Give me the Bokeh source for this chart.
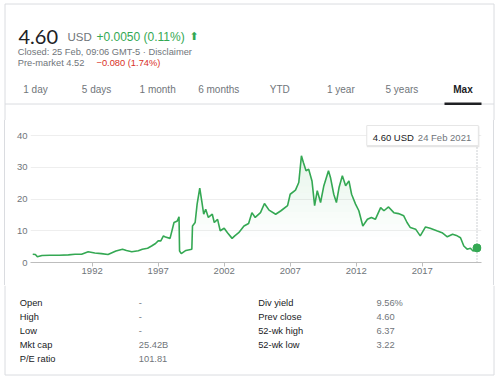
import numpy as np
from bokeh.plotting import figure
from bokeh.layouts import column
from bokeh.models import Range1d, FixedTicker
from bokeh.core.properties import value
from bokeh.embed import file_html
from bokeh.resources import INLINE

# ---------------- data ----------------
years = [1987.5, 1987.7, 1987.85, 1988.2, 1988.8, 1989.5, 1990.2, 1990.7, 1991.2, 1991.7,
         1992.2, 1992.7, 1993.2, 1993.8, 1994.3, 1994.6, 1995.0, 1995.5, 1995.8, 1996.2,
         1996.5, 1996.8, 1997.0, 1997.2, 1997.4, 1997.55, 1997.9, 1998.2, 1998.45, 1998.58,
         1998.62, 1998.75, 1999.1, 1999.55, 1999.6, 1999.8, 1999.95, 2000.15, 2000.3, 2000.45,
         2000.6, 2000.8, 2001.1, 2001.25, 2001.5, 2001.7, 2002.0, 2002.25, 2002.6, 2002.8,
         2003.1, 2003.5, 2003.85, 2004.1, 2004.35, 2004.75, 2005.05, 2005.4, 2005.9, 2006.3,
         2006.8, 2007.0, 2007.4, 2007.65, 2007.85, 2008.0, 2008.2, 2008.4, 2008.65, 2008.85,
         2009.05, 2009.3, 2009.55, 2009.9, 2010.05, 2010.3, 2010.5, 2010.7, 2010.95, 2011.2,
         2011.45, 2011.65, 2011.95, 2012.2, 2012.5, 2012.85, 2013.15, 2013.45, 2013.85, 2014.1,
         2014.45, 2014.85, 2015.2, 2015.6, 2015.85, 2016.1, 2016.5, 2016.85, 2017.25, 2017.6,
         2018.1, 2018.5, 2018.9, 2019.3, 2019.65, 2019.9, 2020.15, 2020.4, 2020.65, 2020.85,
         2021.0, 2021.15]
prices = [2.6, 2.5, 1.8, 2.2, 2.3, 2.3, 2.4, 2.6, 2.6, 3.4,
          3.0, 2.8, 2.5, 3.6, 4.2, 3.8, 3.4, 3.7, 4.2, 4.5,
          5.2, 6.0, 6.8, 6.8, 8.4, 8.0, 7.6, 12.6, 13.1, 14.4,
          3.6, 2.8, 3.8, 4.2, 11.5, 12.6, 18.4, 23.4, 19.4, 15.2,
          16.8, 14.2, 15.2, 12.6, 13.6, 10.0, 10.8, 9.4, 7.6, 8.4,
          9.4, 11.5, 12.3, 15.7, 14.2, 15.7, 18.6, 16.5, 15.2, 16.3,
          17.9, 21.5, 22.8, 25.2, 33.6, 31.5, 28.9, 29.4, 25.7, 17.9,
          22.6, 18.9, 24.2, 28.9, 26.8, 21.5, 18.9, 23.6, 27.3, 24.2,
          25.7, 21.5, 18.4, 16.3, 11.5, 13.6, 14.2, 13.6, 17.3, 16.3,
          17.5, 15.7, 15.4, 14.7, 12.6, 11.0, 10.5, 8.4, 11.2, 10.8,
          10.0, 9.4, 8.1, 8.9, 8.4, 7.8, 5.2, 4.2, 4.5, 3.6,
          3.9, 4.6]

x_ticks = [1992, 1997, 2002, 2007, 2012, 2017]
y_ticks = [0, 10, 20, 30, 40]

currency = "USD"
change_text = "+0.0050 (0.11%)"
closed_text = "Closed: 25 Feb, 09:06 GMT-5 · Disclaimer"
premarket_text = "Pre-market 4.52"
premarket_change = "\u22120.080 (1.74%)"
last_date_label = "24 Feb 2021"
tabs = ["1 day", "5 days", "1 month", "6 months", "YTD", "1 year", "5 years", "Max"]

left_labels = ["Open", "High", "Low", "Mkt cap", "P/E ratio"]
left_values = ["-", "-", "-", "25.42B", "101.81"]
right_labels = ["Div yield", "Prev close", "52-wk high", "52-wk low"]
right_values = ["9.56%", "4.60", "6.37", "3.22"]

# ---------------- styles ----------------
W = 498
GREEN = "#34a853"
RED = "#d93025"
GRAY = "#70757a"
DARK = "#202124"
LINE = "#dadce0"
FONT = value("Liberation Sans")
CARD_L, CARD_R = 4.5, 493.5


def blank(h):
    f = figure(width=W, height=h, x_range=Range1d(0, W), y_range=Range1d(h, 0),
               x_axis_type=None, y_axis_type=None, output_backend="svg",
               toolbar_location=None, min_border=0)
    f.grid.visible = False
    f.outline_line_color = None
    f.frame_align = False
    return f


# ---------------- header ----------------
H1 = 120
hd = blank(H1)
hd.segment(x0=[CARD_L, CARD_R, CARD_L], y0=[3.5, 3.5, 3.5], x1=[CARD_L, CARD_R, CARD_R],
           y1=[H1, H1, 3.5], line_color=LINE, line_width=1)
hd.text(x=[18], y=[36], text=[f"{prices[-1]:.2f}"], text_font=value("Lato"),
        text_font_size="20px", text_color=DARK, text_baseline="alphabetic")
hd.text(x=[67], y=[36], text=[currency], text_font=FONT, text_font_size="11.5px",
        text_color=GRAY, text_baseline="alphabetic")
hd.text(x=[96], y=[36], text=[change_text], text_font=FONT, text_font_size="12px",
        text_color=GREEN, text_baseline="alphabetic")
hd.text(x=[189], y=[36], text=["\u2b06"], text_font=value("DejaVu Sans"), text_font_size="11px",
        text_color=GREEN, text_baseline="alphabetic")
hd.text(x=[17.3], y=[51.3], text=[closed_text], text_font=FONT, text_font_size="9.3px",
        text_color=GRAY, text_baseline="alphabetic")
hd.text(x=[17.3], y=[62.3], text=[premarket_text], text_font=FONT, text_font_size="9.3px",
        text_color=GRAY, text_baseline="alphabetic")
hd.text(x=[96], y=[62.3], text=[premarket_change], text_font=FONT, text_font_size="9.3px",
        text_color=RED, text_baseline="alphabetic")

tab_x = [35 + 61.07 * i for i in range(len(tabs))]
hd.text(x=tab_x[:-1], y=[89] * (len(tabs) - 1), text=tabs[:-1], text_font=FONT,
        text_font_size="10px", text_color=GRAY, text_align="center", text_baseline="alphabetic")
hd.text(x=[tab_x[-1]], y=[89], text=[tabs[-1]], text_font=FONT, text_font_size="10px",
        text_font_style="bold", text_color=DARK, text_align="center", text_baseline="alphabetic")
hd.segment(x0=[CARD_L], y0=[103.5], x1=[CARD_R], y1=[103.5], line_color=LINE, line_width=1)
hd.segment(x0=[tab_x[-1] - 18.5], y0=[103.2], x1=[tab_x[-1] + 18.5], y1=[103.2],
           line_color=DARK, line_width=2.5)

# ---------------- chart ----------------
H2 = 165
ch = figure(width=W, height=H2, x_range=Range1d(1987.33, 2021.49), y_range=Range1d(0, 44.1),
            output_backend="svg", toolbar_location=None,
            min_border_left=30, min_border_right=17, min_border_top=2, min_border_bottom=23)
ch.frame_align = False
ch.outline_line_color = None
ch.border_fill_color = None
ch.background_fill_color = None
ch.styles = {"background": "linear-gradient(#dadce0, #dadce0) 4px 0 / 1px 100% no-repeat, "
                           "linear-gradient(#dadce0, #dadce0) 493px 0 / 1px 100% no-repeat, white"}
ch.xgrid.visible = False
ch.ygrid.ticker = FixedTicker(ticks=y_ticks[1:])
ch.ygrid.grid_line_color = "#eeeeee"

ch.xaxis.ticker = FixedTicker(ticks=x_ticks)
ch.xaxis.major_label_overrides = {t: str(t) for t in x_ticks}
ch.xaxis.axis_line_color = "#bdbdbd"
ch.xaxis.major_tick_line_color = "#bdbdbd"
ch.xaxis.major_tick_out = 4
ch.xaxis.major_tick_in = 0
ch.xaxis.minor_tick_line_color = None
ch.xaxis.major_label_standoff = 1
ch.xaxis.major_label_text_font = "Liberation Sans"
ch.xaxis.major_label_text_font_size = "9.5px"
ch.xaxis.major_label_text_color = GRAY

ch.yaxis.ticker = FixedTicker(ticks=y_ticks)
ch.yaxis.axis_line_color = None
ch.yaxis.major_tick_line_color = None
ch.yaxis.major_tick_out = 0
ch.yaxis.major_tick_in = 0
ch.yaxis.minor_tick_line_color = None
ch.yaxis.major_label_standoff = 3
ch.yaxis.major_label_text_font = "Liberation Sans"
ch.yaxis.major_label_text_font_size = "9.5px"
ch.yaxis.major_label_text_color = GRAY

px = np.array(prices)
for lo in range(0, 40, 2):
    a = 0.13 * (lo - 6) / 28.0
    if a <= 0:
        continue
    ch.varea(x=years, y1=np.minimum(px, lo), y2=np.minimum(px, lo + 2),
             fill_color=GREEN, fill_alpha=min(a, 0.13))

ch.line(x=years, y=prices, line_color=GREEN, line_width=1.6)

last = years[-1]
box_l, box_r, box_b, box_t = last - 8.35, last + 0.1, 36.85, 43.15
ch.segment(x0=[last], y0=[0], x1=[last], y1=[box_b], line_color="#9aa0a6",
           line_dash="1 2", line_width=1)
ch.quad(left=[box_l], right=[box_r + 0.08], bottom=[box_b - 0.55], top=[box_t - 0.2],
        fill_color="black", fill_alpha=0.10, line_color=None)
ch.quad(left=[box_l], right=[box_r], bottom=[box_b], top=[box_t],
        fill_color="white", line_color="#e6e6e6", line_width=1)
ch.text(x=[box_l + 0.45], y=[39.3], text=[f"{prices[-1]:.2f} {currency}"], text_font=FONT,
        text_font_size="9.5px", text_color=DARK, text_baseline="alphabetic")
ch.text(x=[last - 0.44], y=[39.3], text=[last_date_label], text_font=FONT,
        text_font_size="9.5px", text_color=GRAY, text_align="right", text_baseline="alphabetic")
ch.scatter(x=[last], y=[prices[-1]], size=8, fill_color=GREEN, line_color=GREEN)

# ---------------- stats table ----------------
H3 = 93
tb = blank(H3)
tb.segment(x0=[CARD_L, CARD_R, CARD_L], y0=[0, 0, 89.5], x1=[CARD_L, CARD_R, CARD_R],
           y1=[89.5, 89.5, 89.5], line_color=LINE, line_width=1)
row_y = [17.7 + 13.9 * i for i in range(len(left_labels))]
tb.text(x=[19.3] * len(left_labels), y=row_y, text=left_labels, text_font=FONT,
        text_font_size="9.3px", text_color=DARK, text_baseline="alphabetic")
tb.text(x=[138.3] * len(left_values), y=row_y, text=left_values, text_font=FONT,
        text_font_size="9.3px", text_color=GRAY, text_baseline="alphabetic")
tb.text(x=[257.7] * len(right_labels), y=row_y[:len(right_labels)], text=right_labels,
        text_font=FONT, text_font_size="9.3px", text_color=DARK, text_baseline="alphabetic")
tb.text(x=[376] * len(right_values), y=row_y[:len(right_values)], text=right_values,
        text_font=FONT, text_font_size="9.3px", text_color=GRAY, text_baseline="alphabetic")

p = column(hd, ch, tb)

open("out.html", "w").write(file_html(p, INLINE))
